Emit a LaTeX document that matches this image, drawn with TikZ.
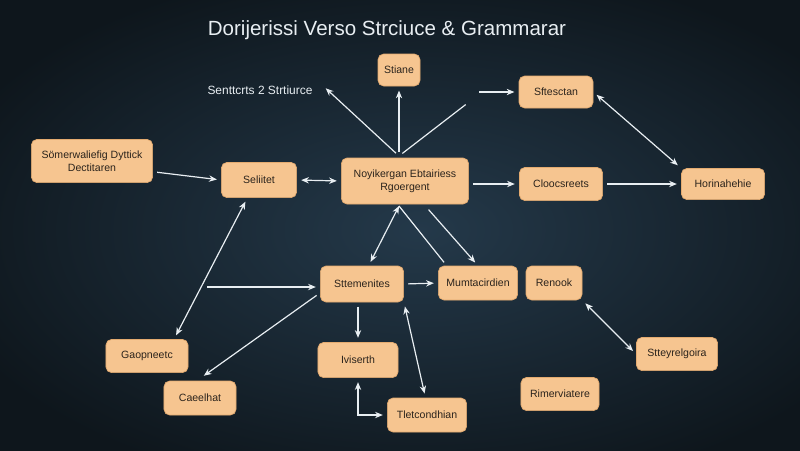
\documentclass[tikz,border=0pt]{standalone}
\usepackage{fontspec}
\setmainfont{Liberation Sans}
\usetikzlibrary{arrows.meta}

\definecolor{bgin}{HTML}{24394A}
\definecolor{bgout}{HTML}{0E161C}
\definecolor{boxfill}{HTML}{F6C590}
\definecolor{boxline}{HTML}{E4AB70}
\definecolor{boxtext}{HTML}{2A231C}
\definecolor{wire}{HTML}{E8EEF2}

\tikzset{
  box/.style={draw=boxline, line width=0.5pt, fill=boxfill, rounded corners=4pt,
    text=boxtext, font=\fontsize{7.5}{9}\selectfont, align=center, inner sep=0pt,
    minimum height=0.85cm},
  link/.style={draw=wire, line width=0.85pt, shorten >=3pt, shorten <=3pt},
}

\begin{document}
\begin{tikzpicture}[x=0.025cm,y=-0.025cm,>={Stealth[length=5.5pt,width=4.5pt]}]
\useasboundingbox (0,0) rectangle (800,450);
\begin{scope}
\clip (0,0) rectangle (800,450);
\shade[inner color=bgin, outer color=bgout] (-80,-40) rectangle (920,500);
\end{scope}

\node [text=wire, font=\fontsize{14.6}{17}\selectfont] (title) at (387,30) {Dorijerissi Verso Strciuce \& Grammarar};
\node [text=wire, font=\fontsize{8.5}{10}\selectfont] (sentlbl) at (260,90) {Senttcrts 2 Strtiurce};

\node [box, minimum width=1.05cm, minimum height=0.8cm] (stiane) at (399,70) {Stiane};
\node [box, minimum width=1.85cm, minimum height=0.8cm] (sftesctan) at (556,92) {Sftesctan};
\node [box, minimum width=3.03cm, minimum height=1.08cm] (somer) at (92,161) {Sömerwaliefig Dyttick\\Dectitaren};
\node [box, minimum width=1.88cm, minimum height=0.88cm] (seliitet) at (259,180) {Seliitet};
\node [box, minimum width=3.18cm, minimum height=1.15cm] (main) at (405,181) {Noyikergan Ebtairiess\\Rgoergent};
\node [box, minimum width=2.08cm, minimum height=0.83cm] (clooc) at (561,184) {Cloocsreets};
\node [box, minimum width=2.08cm, minimum height=0.78cm] (horin) at (723,184) {Horinahehie};
\node [box, minimum width=2.08cm, minimum height=0.9cm] (sttem) at (362,284) {Sttemenites};
\node [box, minimum width=1.98cm] (mumt) at (478,283) {Mumtacirdien};
\node [box, minimum width=1.4cm] (renook) at (554,283) {Renook};
\node [box, minimum width=2.05cm, minimum height=0.83cm] (gaop) at (147,356) {Gaopneetc};
\node [box, minimum width=1.8cm] (caeel) at (200,398) {Caeelhat};
\node [box, minimum width=2.0cm, minimum height=0.88cm] (iviserth) at (358,360) {Iviserth};
\node [box, minimum width=1.98cm] (tletc) at (427,415) {Tletcondhian};
\node [box, minimum width=1.95cm, minimum height=0.83cm] (rimer) at (560,394) {Rimerviatere};
\node [box, minimum width=2.03cm, minimum height=0.83cm] (stteyr) at (677,354) {Stteyrelgoira};

\coordinate (top) at (399,156);
\coordinate (fork) at (469,102);
\coordinate (forkend) at (475,92);
\coordinate (bot) at (399,206);
\coordinate (branch) at (203,287);

\draw[link,->]  (top)  --  (stiane.south);
\draw[link,->,shorten >=8pt]  (top)  --  (sentlbl.north east);
\draw[link]  (top)  --  (fork);
\draw[link,->]  (forkend)  --  (sftesctan.west);
\draw[link,<->]  (sftesctan.east)  --  (horin.north west);

\draw[link,->]  (somer.-10)  --  (seliitet.west);
\draw[link,<->]  (seliitet.east)  --  (main.west);
\draw[link,->]  (main.east |- clooc)  --  (clooc.west);
\draw[link,->]  (clooc.east)  --  (horin.west);

\draw[link,<->,shorten >=0pt]  (sttem.70)  --  (bot);
\draw[link,shorten >=0pt]  (mumt.151)  --  (bot);
\draw[link,->,shorten <=5pt]  (main.-51)  --  (mumt.north);

\draw[link,<->]  (gaop.32)  --  (seliitet.-123);
\draw[link,->]  (branch)  --  (branch -| sttem.west);
\draw[link,->,shorten >=6pt]  (sttem.192)  --  (caeel.100);
\draw[link,->]  (sttem.east)  --  (mumt.west);
\draw[link,->]  (sttem.south -| iviserth)  --  (iviserth.north);
\draw[link,<->]  (iviserth.south)  |-  (tletc.west);
\draw[link,<->]  (sttem.south east)  --  (tletc.95);
\draw[link,<->]  (renook.south east)  --  (stteyr.west);

\end{tikzpicture}
\end{document}
